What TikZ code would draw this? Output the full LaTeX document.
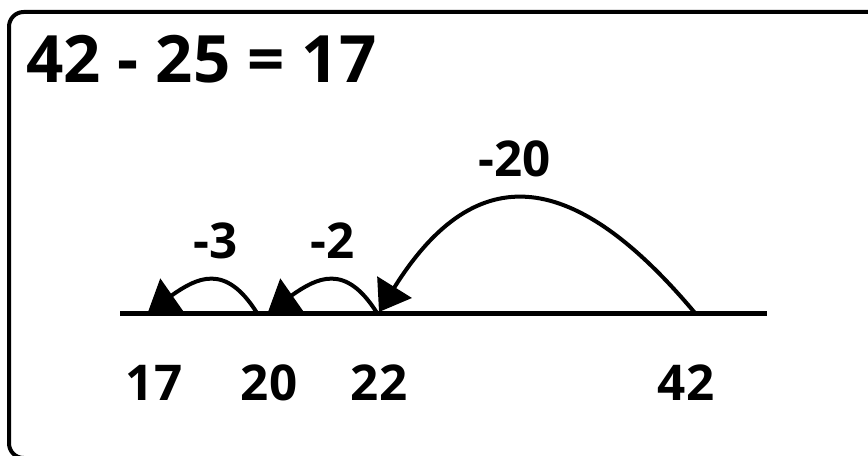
\documentclass[tikz,border=0pt]{standalone}
\usepackage{fontspec}
\setmainfont{Open Sans}
\usetikzlibrary{arrows.meta}

\begin{document}
\begin{tikzpicture}[x=0.75pt, y=-0.75pt,
  num/.style={font=\bfseries\fontsize{37}{40}\selectfont, anchor=base, inner sep=0pt},
  jump/.style={line width=3pt, -{Triangle[length=22pt, width=30pt]}},
  nline/.style={line width=3.75pt}
]
  \useasboundingbox (0,0) rectangle (868,456);
  \clip (0,0) rectangle (868,456);
  \draw[line width=3pt, rounded corners=11pt] (9,12) rectangle (890,458);

  \node[anchor=base west, inner sep=0pt, font=\bfseries\fontsize{49}{52}\selectfont] (title) at (26,83) {42 - 25 = 17};

  % number line
  \coordinate (start) at (120,313);
  \coordinate (stop) at (767,313);
  \draw[nline] (start) -- (stop);

  \coordinate (p17) at (148,312);
  \coordinate (p20) at (257,313);
  \coordinate (p22) at (377,313);
  \coordinate (p42) at (695,313);
  \coordinate (t20) at (268,312);
  \coordinate (t22) at (379,312);

  \node[num] (l17) at (154,400) {17};
  \node[num] (l20) at (269,400) {20};
  \node[num] (l22) at (379,400) {22};
  \node[num] (l42) at (686,400) {42};

  % jumps back
  \draw[jump] (p42) to[out=130, in=58, looseness=1.5] (t22);
  \draw[jump] (p22) to[out=122, in=35, looseness=1.4] (t20);
  \draw[jump] (p20) to[out=122, in=35, looseness=1.4] (p17);

  \node[num] (j20) at (515,177) {-20};
  \node[num] (j2) at (333,258) {-2};
  \node[num] (j3) at (216,258) {-3};
\end{tikzpicture}
\end{document}
